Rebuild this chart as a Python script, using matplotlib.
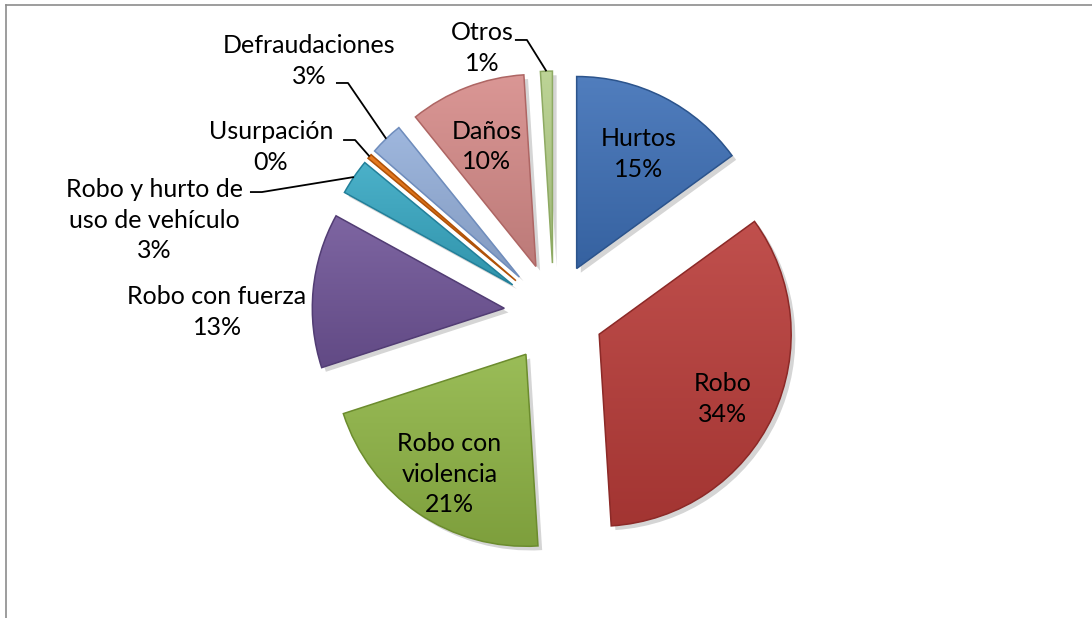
import matplotlib
matplotlib.use("Agg")
import matplotlib.pyplot as plt
import matplotlib.patheffects as pe
import matplotlib.colors as mcolors
from matplotlib.lines import Line2D
from matplotlib.patches import PathPatch
import numpy as np

# data
categorias = ["Hurtos", "Robo", "Robo con\nviolencia", "Robo con fuerza",
              "Robo y hurto de\nuso de vehículo", "Usurpación",
              "Defraudaciones", "Daños", "Otros"]
valores = [15.0, 34.0, 21.0, 13.0, 3.0, 0.4, 2.8, 9.8, 1.0]
etiquetas_pct = ["15%", "34%", "21%", "13%", "3%", "0%", "3%", "10%", "1%"]

colores = ["#3D6FB6", "#B93C39", "#8FB545", "#6F5497", "#37A8C3",
           "#E36C0A", "#94AFDA", "#D68B89", "#B5CF8A"]
bordes = ["#2C548C", "#8C2A28", "#6C8C2E", "#523D74", "#23809A",
          "#B05208", "#6F8DBD", "#AE6664", "#8EAA63"]

# which labels sit inside the slice
dentro = [True, True, True, False, False, False, False, True, False]

# outside label layout (data units, pie radius = 1)
texto_pos = {3: (-1.755, 0.005), 4: (-2.083, 0.484), 5: (-1.474, 0.865),
             6: (-1.276, 1.3125), 8: (-0.375, 1.38)}
codo_pos = {4: (-1.521, 0.630), 5: (-1.036, 0.901),
            6: (-1.073, 1.198), 8: (-0.141, 1.422)}

W, H = 1092, 618
cx, cy, rpx = 554, 313, 192
fig = plt.figure(figsize=(W / 100, H / 100), dpi=100)
ax = fig.add_axes([0, 0, 1, 1])

expl = 0.26
wedges, _ = ax.pie(valores, startangle=90, counterclock=False,
                   colors=colores, explode=[expl] * len(valores),
                   radius=1.0, center=(0, 0), frame=True,
                   wedgeprops=dict(linewidth=0))
ax.axis("off")
ax.set_aspect("equal")


def mezcla(c, otro, t):
    a = np.array(mcolors.to_rgb(c))
    b = np.array(mcolors.to_rgb(otro))
    return a * (1 - t) + b * t


for w, c, b in zip(wedges, colores, bordes):
    w.set_path_effects([pe.SimplePatchShadow(offset=(3, -3), alpha=0.22,
                                             shadow_rgbFace="#404040"),
                        pe.Normal()])
    # soft vertical shading inside each slice
    ext = w.get_path().get_extents()
    arriba = mezcla(c, "white", 0.10)
    abajo = mezcla(c, "black", 0.12)
    t = np.linspace(0, 1, 64)[:, None]
    grad = arriba[None, :] * (1 - t) + abajo[None, :] * t
    im = ax.imshow(grad[:, None, :], extent=(ext.x0, ext.x1, ext.y0, ext.y1),
                   aspect="auto", origin="upper", zorder=w.get_zorder() + 0.1,
                   interpolation="bilinear")
    im.set_clip_path(w)
    ax.add_patch(PathPatch(w.get_path(), facecolor="none", edgecolor=b,
                           lw=1.1, zorder=w.get_zorder() + 0.2))

ax.set_xlim(-cx / rpx, (W - cx) / rpx)
ax.set_ylim(-(H - cy) / rpx, cy / rpx)

fuente = "Lato"
fs = 18
ls = 1.4
for i, w in enumerate(wedges):
    ang = np.deg2rad((w.theta1 + w.theta2) / 2)
    u = np.array([np.cos(ang), np.sin(ang)])
    texto = categorias[i] + "\n" + etiquetas_pct[i]
    if dentro[i]:
        p = u * (expl + 0.71)
        ax.text(p[0], p[1] - 7 / rpx, texto, ha="center", va="center",
                fontsize=fs, family=fuente, linespacing=ls, color="black",
                zorder=5)
    else:
        tx, ty = texto_pos[i]
        ax.text(tx, ty, texto, ha="center", va="center", fontsize=fs,
                family=fuente, linespacing=ls, color="black", zorder=5)
        if i in codo_pos:
            ex, ey = codo_pos[i]
            fin = u * (expl + 1.0)
            ax.plot([ex - 12 / rpx, ex, fin[0]], [ey, ey, fin[1]],
                    color="black", lw=1.3, solid_capstyle="butt", zorder=6)

# chart frame (top and left edges visible)
fig.add_artist(Line2D([6 / W, 1], [1 - 5 / H, 1 - 5 / H], color="#8C8C8C", lw=1.2))
fig.add_artist(Line2D([6 / W, 6 / W], [0, 1 - 5 / H], color="#8C8C8C", lw=1.2))

fig.savefig("out.png", dpi=100)
